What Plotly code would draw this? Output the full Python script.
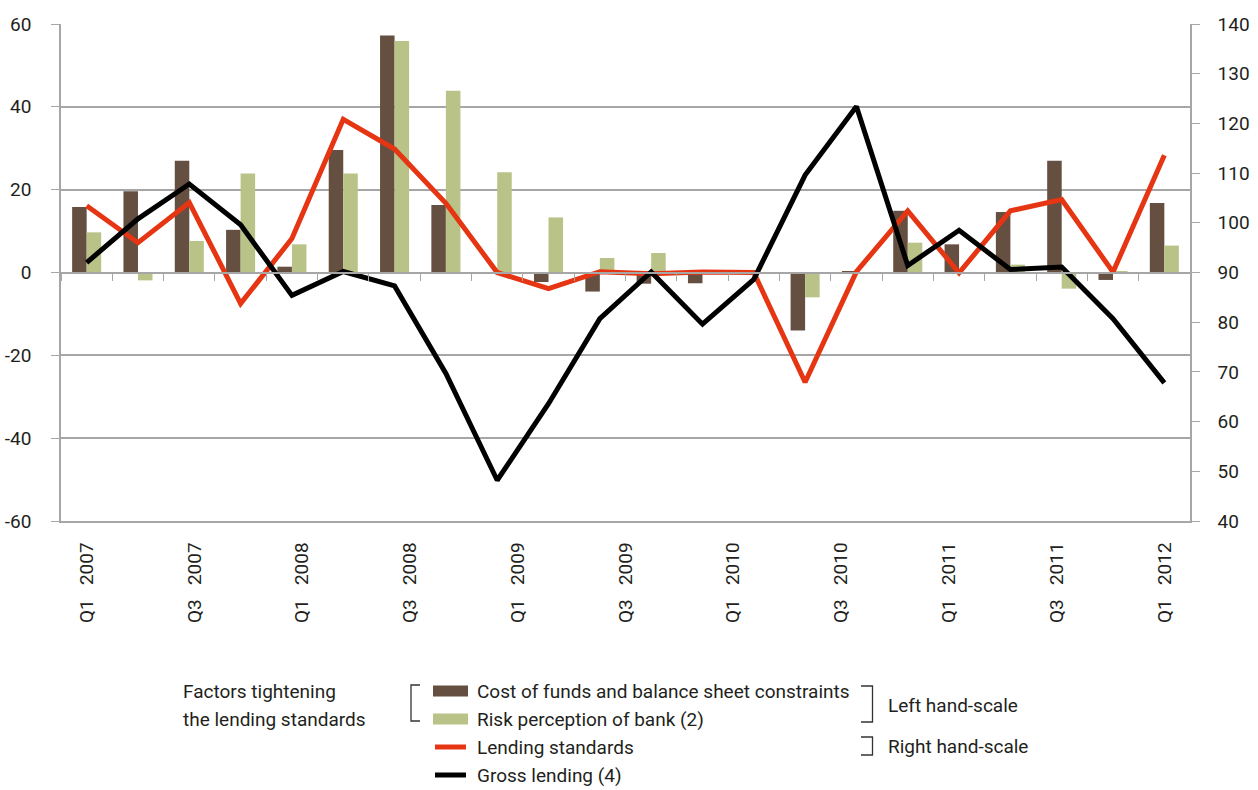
import plotly.graph_objects as go
import numpy as np

# ---------------- data ----------------
quarters = ["Q1 2007", "Q2 2007", "Q3 2007", "Q4 2007",
            "Q1 2008", "Q2 2008", "Q3 2008", "Q4 2008",
            "Q1 2009", "Q2 2009", "Q3 2009", "Q4 2009",
            "Q1 2010", "Q2 2010", "Q3 2010", "Q4 2010",
            "Q1 2011", "Q2 2011", "Q3 2011", "Q4 2011",
            "Q1 2012", "Q2 2012"]

cost_of_funds = [15.8, 19.6, 27.0, 10.3, 1.4, 29.6, 57.2, 16.3, 0.0, -2.3, -4.6,
                 -2.7, -2.6, 0.0, -14.0, 0.2, 14.9, 6.8, 14.6, 27.0, -1.8, 16.8]
risk_perception = [9.7, -1.9, 7.6, 23.9, 6.8, 23.9, 55.9, 43.9, 24.2, 13.3, 3.5,
                   4.7, 0.0, 0.0, -6.0, 0.0, 7.2, 0.0, 1.9, -3.9, 0.3, 6.5]
lending_standards = [16.1, 7.2, 16.9, -7.5, 8.2, 37.0, 29.8, 16.7, 0.0, -3.9, 0.2,
                     -0.3, 0.1, 0.0, -26.5, 0.2, 14.9, -0.1, 14.9, 17.6, 0.1, 28.3]
gross_lending = [92.0, 100.8, 107.8, 99.6, 85.4, 90.2, 87.3, 69.7, 48.2, 63.6, 80.7,
                 90.1, 79.6, 88.6, 109.6, 123.4, 91.4, 98.5, 90.6, 91.1, 80.7, 67.8]

tick_labels = ["Q1 2007", "Q3 2007", "Q1 2008", "Q3 2008", "Q1 2009", "Q3 2009",
               "Q1 2010", "Q3 2010", "Q1 2011", "Q3 2011", "Q1 2012"]
left_ticks = [-60, -40, -20, 0, 20, 40, 60]
left_tick_text = ["-60", "-40", "-20", "0", "20", "40", "60"]

names = ["Cost of funds and balance sheet constraints", "Risk perception of bank (2)",
         "Lending standards", "Gross lending (4)"]
group_title = ["Factors tightening", "the lending standards"]
scale_titles = ["Left hand-scale", "Right hand-scale"]

# ---------------- style ----------------
BROWN = "#654f40"
GREEN = "#b9c388"
RED = "#e53513"
BLACK = "#000000"
GRID = "#a6a6a6"
TXT = "#231f20"
FONT = "Roboto, Liberation Sans, Arial, sans-serif"
FS = 19

W, H = 1258, 790
L, R, T, B = 61, 68, 24, 269
x = np.arange(len(quarters))

fig = go.Figure()
fig.add_trace(go.Bar(x=x, y=cost_of_funds, name=names[0], marker_color=BROWN,
                     marker_line_width=0, hovertext=quarters))
fig.add_trace(go.Bar(x=x, y=risk_perception, name=names[1], marker_color=GREEN,
                     marker_line_width=0, hovertext=quarters))
fig.add_trace(go.Scatter(x=x, y=lending_standards, name=names[2], mode="lines",
                         line=dict(color=RED, width=5), hovertext=quarters))
fig.add_trace(go.Scatter(x=x, y=gross_lending, name=names[3], mode="lines",
                         line=dict(color=BLACK, width=5), xaxis="x2", yaxis="y2",
                         hovertext=quarters))

xr = [-0.5, len(quarters) - 0.5]
label_pos = np.linspace(0, len(quarters) - 1, len(tick_labels))
shown_labels = [t.replace(" ", "\u00a0" * 3) for t in tick_labels]

fig.update_layout(
    template="none",
    width=W, height=H,
    margin=dict(l=L, r=R, t=T, b=B, autoexpand=False),
    paper_bgcolor="white", plot_bgcolor="white",
    font=dict(family=FONT, size=FS, color=TXT),
    showlegend=False,
    barmode="group", bargap=0.434, bargroupgap=0,
    # bottom axis carrying the quarter labels
    xaxis=dict(range=xr, anchor="y", side="bottom", automargin=False,
               showline=True, linecolor=GRID, linewidth=1.5, mirror=False,
               tickmode="array", tickvals=label_pos, ticktext=shown_labels,
               tickangle=-90, ticks="", ticklabelstandoff=12,
               tickfont=dict(size=FS, color=TXT),
               showgrid=False, zeroline=False),
    # category axis drawn through zero with ticks between categories
    xaxis2=dict(range=xr, overlaying="x", anchor="free", position=0.5, automargin=False,
                showline=True, linecolor=GRID, linewidth=1.5,
                tickmode="array", tickvals=np.arange(-0.5, len(quarters), 1),
                ticks="outside", ticklen=8, tickcolor=GRID, tickwidth=1,
                showticklabels=False, showgrid=False, zeroline=False),
    yaxis=dict(range=[-60, 60], automargin=False,
               tickmode="array", tickvals=left_ticks, ticktext=left_tick_text,
               showgrid=True, gridcolor=GRID, gridwidth=1.5,
               showline=True, linecolor=GRID, linewidth=1.5,
               ticks="outside", ticklen=8, tickcolor=GRID,
               ticklabelstandoff=16, tickfont=dict(size=FS, color=TXT),
               zeroline=False),
    yaxis2=dict(range=[40, 140], dtick=10, tick0=40, overlaying="y", side="right",
                anchor="x2", automargin=False,
                showgrid=False, showline=True, linecolor=GRID, linewidth=1.5,
                ticks="outside", ticklen=8, tickcolor=GRID,
                ticklabelstandoff=14, tickfont=dict(size=FS, color=TXT),
                zeroline=False),
)

# ---------------- custom legend ----------------
pw, ph = W - L - R, H - T - B


def px(v):
    return (v - L) / pw


def py(v):
    return (H - B - v) / ph


shapes = []
annotations = []

for i, t in enumerate(group_title):
    annotations.append(dict(x=px(181), y=py(691 + 28 * i), xref="paper", yref="paper",
                            text=t, showarrow=False, xanchor="left", yanchor="middle",
                            font=dict(size=FS, color=TXT)))

shapes.append(dict(type="path", xref="paper", yref="paper",
                   path=f"M {px(420)},{py(685)} L {px(411)},{py(685)} L {px(411)},{py(721)} L {px(420)},{py(721)}",
                   line=dict(color="#333333", width=1.3)))

colors = [BROWN, GREEN, RED, BLACK]
for i, (nm, c) in enumerate(zip(names, colors)):
    yc = 691 + 28 * i
    if i < 2:
        shapes.append(dict(type="rect", xref="paper", yref="paper",
                           x0=px(433), x1=px(468), y0=py(yc - 5.5), y1=py(yc + 5.5),
                           fillcolor=c, line=dict(width=0)))
    else:
        shapes.append(dict(type="line", xref="paper", yref="paper",
                           x0=px(435), x1=px(466), y0=py(yc), y1=py(yc),
                           line=dict(color=c, width=5)))
    annotations.append(dict(x=px(475), y=py(yc), xref="paper", yref="paper",
                            text=nm, showarrow=False, xanchor="left", yanchor="middle",
                            font=dict(size=FS, color=TXT)))

for (y0, y1, ty), t in zip([(686, 722, 705), (737, 755, 746)], scale_titles):
    shapes.append(dict(type="path", xref="paper", yref="paper",
                       path=f"M {px(861)},{py(y0)} L {px(872.5)},{py(y0)} L {px(872.5)},{py(y1)} L {px(861)},{py(y1)}",
                       line=dict(color="#333333", width=1.3)))
    annotations.append(dict(x=px(886), y=py(ty), xref="paper", yref="paper",
                            text=t, showarrow=False, xanchor="left", yanchor="middle",
                            font=dict(size=FS, color=TXT)))

fig.update_layout(shapes=shapes, annotations=annotations)

fig.write_html("out.html")
